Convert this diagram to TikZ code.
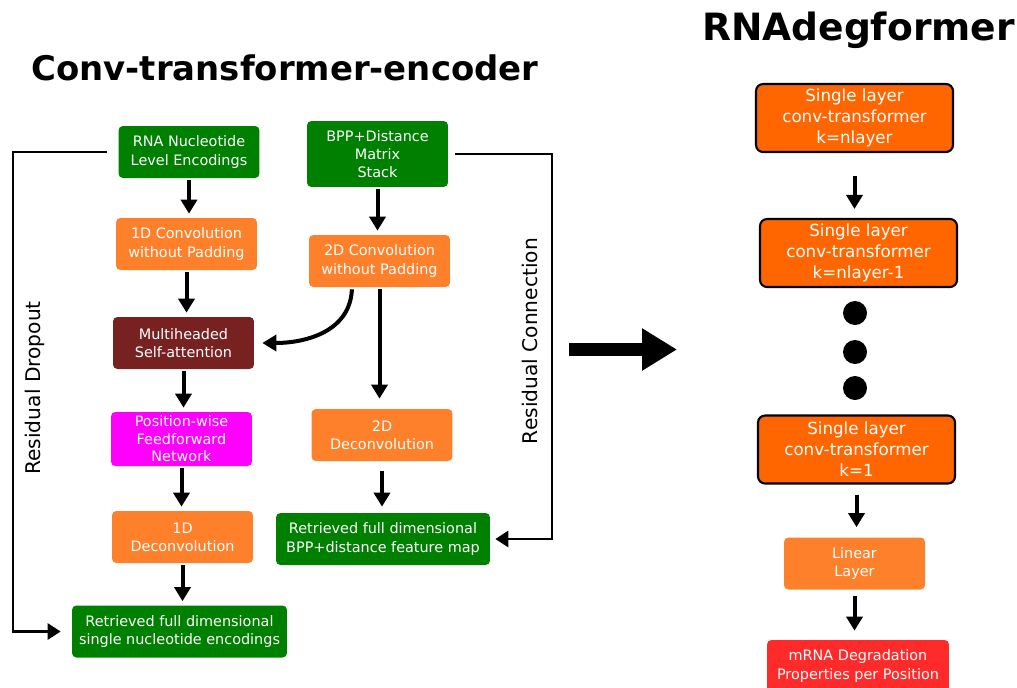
\documentclass[tikz,border=0pt]{standalone}
\usepackage{fontspec}
\setmainfont{DejaVu Sans}
\usepackage{xcolor}
\usepackage{tikz}
\usetikzlibrary{arrows.meta}
\definecolor{encgreen}{RGB}{0,128,0}
\definecolor{convorange}{RGB}{255,128,42}
\definecolor{attnred}{RGB}{120,33,33}
\definecolor{ffnmagenta}{RGB}{255,0,255}
\definecolor{layerorange}{RGB}{255,102,0}
\definecolor{outred}{RGB}{255,42,42}

\begin{document}
\begin{tikzpicture}[x=0.02cm, y=-0.02cm,
    box/.style={rectangle, rounded corners=2.5pt, align=center, text=white, inner sep=0pt,
      font=\fontsize{8.2}{10.4}\selectfont, minimum width=2.82cm, minimum height=1.04cm},
    layer/.style={rectangle, rounded corners=4pt, draw=black, line width=1.2pt, fill=layerorange,
      text=white, align=center, inner sep=0pt, font=\fontsize{9.5}{12}\selectfont,
      minimum width=3.94cm, minimum height=1.36cm},
    flow/.style={line width=0.08cm, -{Triangle[length=0.28cm,width=0.32cm]},
      shorten <=0.04cm, shorten >=0.08cm},
    resline/.style={line width=0.055cm, -{Triangle[length=0.26cm,width=0.32cm]}},
    sidelabel/.style={rotate=90, font=\fontsize{11.5}{14}\selectfont}]
    \useasboundingbox (0,0) rectangle (1017,687);

    \node[anchor=base, font=\fontsize{19.3}{23}\selectfont\bfseries] (enctitle) at (285,80) {Conv-transformer-encoder};
    \node[anchor=base, font=\fontsize{21.4}{25}\selectfont\bfseries] (modeltitle) at (858.5,40) {RNAdegformer};

    \node[box, fill=encgreen] (rna) at (189,152) {RNA Nucleotide\\Level Encodings};
    \node[box, fill=encgreen, minimum height=1.32cm] (bpp) at (377.5,154) {BPP+Distance\\Matrix\\Stack};
    \node[box, fill=convorange] (conv1) at (186.5,244) {1D Convolution\\without Padding};
    \node[box, fill=convorange] (conv2) at (379.5,261) {2D Convolution\\without Padding};
    \node[box, fill=attnred] (mha) at (183.5,343) {Multiheaded\\Self-attention};
    \node[box, fill=ffnmagenta, minimum height=1.08cm, font=\fontsize{8.2}{10}\selectfont] (ffn) at (181.5,439) {Position-wise\\Feedforward\\Network};
    \node[box, fill=convorange] (deconv2) at (382,435) {2D\\Deconvolution};
    \node[box, fill=convorange] (deconv1) at (182.5,537) {1D\\Deconvolution};
    \node[box, fill=encgreen, minimum width=4.28cm] (bppout) at (383,539) {Retrieved full dimensional\\BPP+distance feature map};
    \node[box, fill=encgreen, minimum width=4.3cm] (ntout) at (179.5,631.5) {Retrieved full dimensional\\single nucleotide encodings};

    \draw[flow] (rna.south) -- (rna.south |- conv1.north);
    \draw[flow] (conv1.south) -- (conv1.south |- mha.north);
    \draw[flow] (mha.south) -- (mha.south |- ffn.north);
    \draw[flow] (ffn.south) -- (ffn.south |- deconv1.north);
    \draw[flow] (deconv1.south) -- (deconv1.south |- ntout.north);
    \draw[flow] (bpp.south) -- (bpp.south |- conv2.north);
    \draw[flow, shorten >=0.2cm] (conv2.south) -- (conv2.south |- deconv2.north);
    \draw[flow, shorten <=0.2cm, shorten >=0.12cm] (deconv2.south) -- (deconv2.south |- bppout.north);
    \draw[flow, shorten >=0.16cm] ([xshift=-0.55cm]conv2.south) .. controls +(-2,45) and +(50,0) .. (mha.east);

    \coordinate (rdx) at (13,0);
    \coordinate (rcx) at (552,0);
    \draw[resline, shorten <=0.22cm, shorten >=0.22cm] (rna.west) -- (rna.west -| rdx) |- (ntout.west);
    \draw[resline, shorten <=0.14cm, shorten >=0.1cm] (bpp.east) -- (bpp.east -| rcx) |- (bppout.east);
    \node[sidelabel] (rdlab) at (35,388) {Residual Dropout};
    \node[sidelabel] (rclab) at (530,341) {Residual Connection};

    \coordinate (bigfrom) at (569,349.5);
    \coordinate (bigto) at (677,349.5);
    \draw[line width=0.26cm, -{Triangle[length=0.7cm,width=0.8cm]}] (bigfrom) -- (bigto);

    \node[layer] (lay1) at (854.5,118) {Single layer\\conv-transformer\\k=nlayer};
    \node[layer] (lay2) at (858.5,253) {Single layer\\conv-transformer\\k=nlayer-1};
    \node[layer] (lay3) at (856.5,449.5) {Single layer\\conv-transformer\\k=1};
    \node[box, fill=convorange] (linear) at (854.5,563.5) {Linear\\Layer};
    \node[box, fill=outred, minimum width=3.64cm] (mrna) at (858,666) {mRNA Degradation\\Properties per Position};
    \foreach \yy in {313,352,388} \fill (855,\yy) circle (0.24cm);

    \draw[flow, shorten <=0.46cm, shorten >=0.18cm] (lay1.south) -- (lay1.south |- lay2.north);
    \draw[flow, shorten <=0.2cm, shorten >=0.2cm] (lay3.south) -- (lay3.south |- linear.north);
    \draw[flow, shorten <=0.12cm, shorten >=0.18cm] (linear.south) -- (linear.south |- mrna.north);
\end{tikzpicture}
\end{document}
